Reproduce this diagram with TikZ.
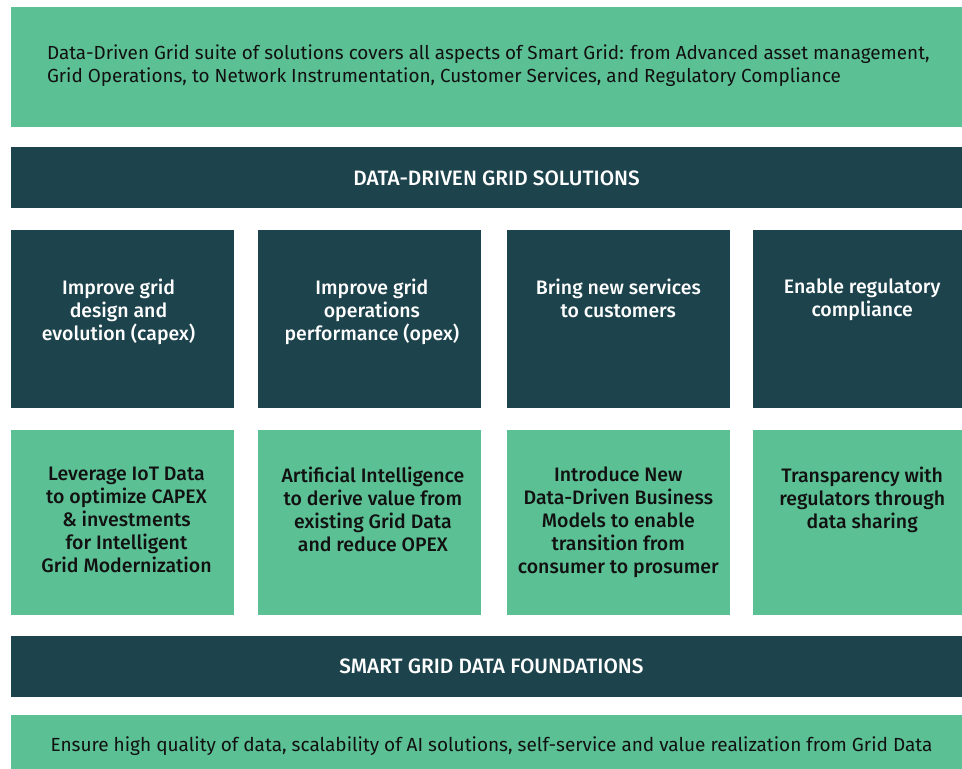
\documentclass[tikz,border=0pt]{standalone}
\usepackage{fontspec}
\setmainfont{Fira Sans}[BoldFont={Fira Sans Medium}]
\usepackage{tikz}
\usetikzlibrary{positioning, calc}
\definecolor{gridgreen}{RGB}{92,192,149}
\definecolor{griddark}{RGB}{29,67,77}
\definecolor{gridink}{RGB}{17,17,17}
\tikzset{
  bar/.style={rectangle, inner sep=0pt, minimum width=951pt},
  greenbar/.style={bar, fill=gridgreen},
  darkbar/.style={bar, fill=griddark},
  headtext/.style={inner sep=0pt, text=white,
    font=\bfseries\fontsize{20.8}{24}\selectfont},
  darkbox/.style={rectangle, fill=griddark, inner sep=0pt,
    minimum width=223pt, minimum height=178pt},
  greenbox/.style={rectangle, fill=gridgreen, inner sep=0pt,
    minimum width=223pt, minimum height=185pt},
  darktext/.style={inner sep=0pt, align=center, text=white,
    font=\bfseries\fontsize{19.5}{23}\selectfont},
  greentext/.style={inner sep=0pt, align=center, text=gridink,
    font=\bfseries\fontsize{19.5}{23}\selectfont},
  plaintext/.style={inner sep=0pt, align=left, text=gridink,
    font=\fontsize{18.9}{23}\selectfont}
}
\begin{document}
\begin{tikzpicture}[x=1pt, y=-1pt]
  \useasboundingbox (0,0) rectangle (962,769);
  % top summary
  \node[greenbar, minimum height=120pt] (intro) at (486.5,67) {};
  \node[plaintext, below right=38pt and 36pt of intro.north west, anchor=north west] (introtxt)
    {Data-Driven Grid suite of solutions covers all aspects of Smart Grid: from Advanced asset management,\\
     Grid Operations, to Network Instrumentation, Customer Services, and Regulatory Compliance};
  \node[darkbar, minimum height=61pt, below=20pt of intro] (solutions) {};
  \node[headtext] (soltxt) at ($(solutions.center)+(10,0)$) {DATA-DRIVEN GRID SOLUTIONS};
  % goals
  \node[darkbox, below right=21pt and 0pt of solutions.south west] (d1) {};
  \node[darkbox, right=24pt of d1] (d2) {};
  \node[darkbox, right=25pt of d2] (d3) {};
  \node[darkbox, right=23pt of d3, minimum width=210pt] (d4) {};
  \node[darktext, below=49pt of d1.north, xshift=-4pt] (t1) {Improve grid\\design and\\evolution (capex)};
  \node[darktext, below=49pt of d2.north, xshift=2pt] (t2) {Improve grid\\operations\\performance (opex)};
  \node[darktext, below=49pt of d3.north] (t3) {Bring new services\\to customers};
  \node[darktext, below=49pt of d4.north, xshift=4pt] (t4) {Enable regulatory\\compliance};
  % levers
  \node[greenbox, below=22pt of d1] (g1) {};
  \node[greenbox, below=22pt of d2] (g2) {};
  \node[greenbox, below=22pt of d3] (g3) {};
  \node[greenbox, below=22pt of d4, minimum width=210pt] (g4) {};
  \node[greentext, below=37pt of g1.north, xshift=4pt] (u1) {Leverage IoT Data\\to optimize CAPEX\\\& investments\\for Intelligent\\Grid Modernization};
  \node[greentext, below=37pt of g2.north, xshift=3pt] (u2) {Artificial Intelligence\\to derive value from\\existing Grid Data\\and reduce OPEX};
  \node[greentext, below=37pt of g3.north] (u3) {Introduce New\\Data-Driven Business\\Models to enable\\transition from\\consumer to prosumer};
  \node[greentext, below=37pt of g4.north, xshift=4pt] (u4) {Transparency with\\regulators through\\data sharing};
  % foundations
  \node[darkbar, minimum height=61pt, below right=20pt and 0pt of g1.south west] (found) {};
  \node[headtext] (foundtxt) at ($(found.center)+(5,0)$) {SMART GRID DATA FOUNDATIONS};
  \node[greenbar, minimum height=56pt, below=18pt of found] (ensure) {};
  \node[inner sep=0pt, text=gridink, font=\fontsize{19}{23}\selectfont] (ensuretxt)
    at ($(ensure.center)+(5,3)$)
    {Ensure high quality of data, scalability of AI solutions, self-service and value realization from Grid Data};
\end{tikzpicture}
\end{document}
